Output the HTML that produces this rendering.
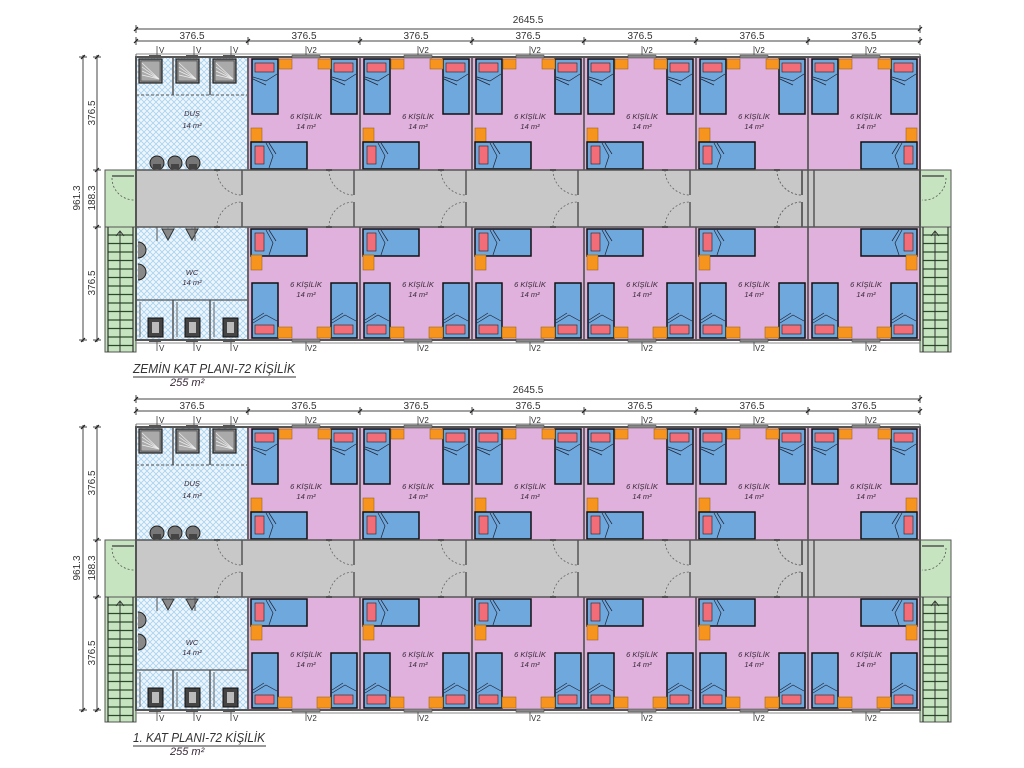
<!DOCTYPE html>
<html><head><meta charset="utf-8">
<style>
html,body{margin:0;padding:0;background:#fff;}
svg{display:block;}
text{font-family:"Liberation Sans",sans-serif;fill:#333;}
.d{font-size:10px;text-anchor:middle;}
.r{font-size:7.5px;font-style:italic;text-anchor:middle;fill:#3a2a3a;}
.v{font-size:8px;}
.t{font-size:13px;font-style:italic;}
</style></head><body>
<svg id="s" width="1024" height="768" viewBox="0 0 1024 768" xmlns="http://www.w3.org/2000/svg">
<defs>
<pattern id="h" width="6" height="6" patternUnits="userSpaceOnUse">
<rect width="6" height="6" fill="#eef6fc"/>
<path d="M0 0L6 6M6 0L0 6" stroke="#a9d2ef" stroke-width="0.8"/>
</pattern>
</defs>
<g id="shapes"></g>
<g>
<text class="d" x="528" y="23">2645.5</text>
<text class="d" x="192" y="39">376.5</text><text class="d" x="304" y="39">376.5</text><text class="d" x="416" y="39">376.5</text><text class="d" x="528" y="39">376.5</text><text class="d" x="640" y="39">376.5</text><text class="d" x="752" y="39">376.5</text><text class="d" x="864" y="39">376.5</text>
<text class="d" transform="translate(95,113) rotate(-90)">376.5</text>
<text class="d" transform="translate(95,198) rotate(-90)">188.3</text>
<text class="d" transform="translate(95,283) rotate(-90)">376.5</text>
<text class="d" transform="translate(80,198) rotate(-90)">961.3</text>
<text class="v" x="159" y="53">V</text><text class="v" x="196" y="53">V</text><text class="v" x="233" y="53">V</text>
<text class="v" x="307" y="53">V2</text><text class="v" x="419" y="53">V2</text><text class="v" x="531" y="53">V2</text><text class="v" x="643" y="53">V2</text><text class="v" x="755" y="53">V2</text><text class="v" x="867" y="53">V2</text>
<text class="v" x="159" y="351">V</text><text class="v" x="196" y="351">V</text><text class="v" x="233" y="351">V</text>
<text class="v" x="307" y="351">V2</text><text class="v" x="419" y="351">V2</text><text class="v" x="531" y="351">V2</text><text class="v" x="643" y="351">V2</text><text class="v" x="755" y="351">V2</text><text class="v" x="867" y="351">V2</text>
<text class="r" x="192" y="116">DUŞ</text><text class="r" x="192" y="128">14 m²</text>
<text class="r" x="192" y="275">WC</text><text class="r" x="192" y="285">14 m²</text>
<text class="r" x="306" y="119">6 KİŞİLİK</text><text class="r" x="306" y="129">14 m²</text>
<text class="r" x="418" y="119">6 KİŞİLİK</text><text class="r" x="418" y="129">14 m²</text>
<text class="r" x="530" y="119">6 KİŞİLİK</text><text class="r" x="530" y="129">14 m²</text>
<text class="r" x="642" y="119">6 KİŞİLİK</text><text class="r" x="642" y="129">14 m²</text>
<text class="r" x="754" y="119">6 KİŞİLİK</text><text class="r" x="754" y="129">14 m²</text>
<text class="r" x="866" y="119">6 KİŞİLİK</text><text class="r" x="866" y="129">14 m²</text>
<text class="r" x="306" y="287">6 KİŞİLİK</text><text class="r" x="306" y="297">14 m²</text>
<text class="r" x="418" y="287">6 KİŞİLİK</text><text class="r" x="418" y="297">14 m²</text>
<text class="r" x="530" y="287">6 KİŞİLİK</text><text class="r" x="530" y="297">14 m²</text>
<text class="r" x="642" y="287">6 KİŞİLİK</text><text class="r" x="642" y="297">14 m²</text>
<text class="r" x="754" y="287">6 KİŞİLİK</text><text class="r" x="754" y="297">14 m²</text>
<text class="r" x="866" y="287">6 KİŞİLİK</text><text class="r" x="866" y="297">14 m²</text>
<text class="t" x="133" y="373" textLength="162" lengthAdjust="spacingAndGlyphs">ZEMİN KAT PLANI-72 KİŞİLİK</text>
<text class="r" x="170" y="386" style="font-size:11px;text-anchor:start">255 m²</text>
</g>
<g>
<text class="d" x="528" y="393">2645.5</text>
<text class="d" x="192" y="409">376.5</text><text class="d" x="304" y="409">376.5</text><text class="d" x="416" y="409">376.5</text><text class="d" x="528" y="409">376.5</text><text class="d" x="640" y="409">376.5</text><text class="d" x="752" y="409">376.5</text><text class="d" x="864" y="409">376.5</text>
<text class="d" transform="translate(95,483) rotate(-90)">376.5</text>
<text class="d" transform="translate(95,568) rotate(-90)">188.3</text>
<text class="d" transform="translate(95,653) rotate(-90)">376.5</text>
<text class="d" transform="translate(80,568) rotate(-90)">961.3</text>
<text class="v" x="159" y="423">V</text><text class="v" x="196" y="423">V</text><text class="v" x="233" y="423">V</text>
<text class="v" x="307" y="423">V2</text><text class="v" x="419" y="423">V2</text><text class="v" x="531" y="423">V2</text><text class="v" x="643" y="423">V2</text><text class="v" x="755" y="423">V2</text><text class="v" x="867" y="423">V2</text>
<text class="v" x="159" y="721">V</text><text class="v" x="196" y="721">V</text><text class="v" x="233" y="721">V</text>
<text class="v" x="307" y="721">V2</text><text class="v" x="419" y="721">V2</text><text class="v" x="531" y="721">V2</text><text class="v" x="643" y="721">V2</text><text class="v" x="755" y="721">V2</text><text class="v" x="867" y="721">V2</text>
<text class="r" x="192" y="486">DUŞ</text><text class="r" x="192" y="498">14 m²</text>
<text class="r" x="192" y="645">WC</text><text class="r" x="192" y="655">14 m²</text>
<text class="r" x="306" y="489">6 KİŞİLİK</text><text class="r" x="306" y="499">14 m²</text>
<text class="r" x="418" y="489">6 KİŞİLİK</text><text class="r" x="418" y="499">14 m²</text>
<text class="r" x="530" y="489">6 KİŞİLİK</text><text class="r" x="530" y="499">14 m²</text>
<text class="r" x="642" y="489">6 KİŞİLİK</text><text class="r" x="642" y="499">14 m²</text>
<text class="r" x="754" y="489">6 KİŞİLİK</text><text class="r" x="754" y="499">14 m²</text>
<text class="r" x="866" y="489">6 KİŞİLİK</text><text class="r" x="866" y="499">14 m²</text>
<text class="r" x="306" y="657">6 KİŞİLİK</text><text class="r" x="306" y="667">14 m²</text>
<text class="r" x="418" y="657">6 KİŞİLİK</text><text class="r" x="418" y="667">14 m²</text>
<text class="r" x="530" y="657">6 KİŞİLİK</text><text class="r" x="530" y="667">14 m²</text>
<text class="r" x="642" y="657">6 KİŞİLİK</text><text class="r" x="642" y="667">14 m²</text>
<text class="r" x="754" y="657">6 KİŞİLİK</text><text class="r" x="754" y="667">14 m²</text>
<text class="r" x="866" y="657">6 KİŞİLİK</text><text class="r" x="866" y="667">14 m²</text>
<text class="t" x="133" y="742" textLength="132" lengthAdjust="spacingAndGlyphs">1. KAT PLANI-72 KİŞİLİK</text>
<text class="r" x="170" y="755" style="font-size:11px;text-anchor:start">255 m²</text>
</g>
</svg>
<script>
(function(){
var s='';
function R(x,y,w,h,f,st,sw){s+='<rect x="'+x+'" y="'+y+'" width="'+w+'" height="'+h+'" fill="'+f+'" stroke="'+(st||'none')+'" stroke-width="'+(sw||1)+'"/>';}
function L(x1,y1,x2,y2,st,sw,da){s+='<line x1="'+x1+'" y1="'+y1+'" x2="'+x2+'" y2="'+y2+'" stroke="'+(st||'#555')+'" stroke-width="'+(sw||1)+'"'+(da?' stroke-dasharray="'+da+'"':'')+'/>';}
function P(d,st,sw,da,f){s+='<path d="'+d+'" fill="'+(f||'none')+'" stroke="'+(st||'#555')+'" stroke-width="'+(sw||1)+'"'+(da?' stroke-dasharray="'+da+'"':'')+'/>';}
var BL='#6fa8dc',PK='#f26d78',OR='#f7941d',RM='#e0b1dc';
function vbed(x,y,top){R(x,y,26,55,BL,'#111',1.5);
 if(top){R(x+3,y+4,19,9,PK,'#222',0.6);P('M'+(x+1)+' '+(y+18)+'L'+(x+14)+' '+(y+22)+'L'+(x+25)+' '+(y+15)+'M'+(x+1)+' '+(y+20)+'L'+(x+14)+' '+(y+26),'#223',0.7);}
 else{R(x+3,y+42,19,9,PK,'#222',0.6);P('M'+(x+1)+' '+(y+40)+'L'+(x+14)+' '+(y+32)+'L'+(x+25)+' '+(y+38)+'M'+(x+1)+' '+(y+37)+'L'+(x+12)+' '+(y+30),'#223',0.7);}}
function hbed(x,y,left){R(x,y,56,27,BL,'#111',1.5);
 if(left){R(x+4,y+4,9,18,PK,'#222',0.6);P('M'+(x+15)+' '+(y+1)+'L'+(x+22)+' '+(y+14)+'L'+(x+18)+' '+(y+26)+'M'+(x+18)+' '+(y+1)+'L'+(x+25)+' '+(y+12),'#223',0.7);}
 else{R(x+43,y+4,9,18,PK,'#222',0.6);P('M'+(x+41)+' '+(y+1)+'L'+(x+34)+' '+(y+14)+'L'+(x+38)+' '+(y+26)+'M'+(x+38)+' '+(y+1)+'L'+(x+31)+' '+(y+12),'#223',0.7);}}
function dims(dy){
 L(136,29+dy,920,29+dy,'#444',1);L(136,41+dy,920,41+dy,'#444',1);
 for(var i=0;i<=7;i++){var x=i==0?136:248+112*(i-1);L(x,37+dy,x,45+dy,'#444',1);L(x-2,43+dy,x+2,39+dy,'#222',1.2);}
 L(136,25+dy,136,33+dy,'#444',1);L(920,25+dy,920,33+dy,'#444',1);L(134,31+dy,138,27+dy,'#222',1.2);L(918,31+dy,922,27+dy,'#222',1.2);
 L(83,55+dy,83,342+dy,'#444',1);L(97,55+dy,97,342+dy,'#444',1);
 [57,170,227,340].forEach(function(y){L(93,y+dy,101,y+dy,'#444',1);L(95,y+dy+2,99,y+dy-2,'#222',1.2);});
 [57,340].forEach(function(y){L(79,y+dy,87,y+dy,'#444',1);L(81,y+dy+2,85,y+dy-2,'#222',1.2);});
}
function stairs(x,dy,right){
 var C1=170+dy,C2=227+dy;
 R(x,C1,31,182,'#c6e4bf','#555',1);
 L(x,C2,x+31,C2,'#555',1);
 for(var y=C2+8;y<352+dy;y+=8.5)L(x+3,y,x+28,y,'#2a4a2a',1.2);
 L(x+3,C2,x+3,352+dy,'#333',1.2);L(x+28,C2,x+28,352+dy,'#333',1.2);L(x+15,C2+4,x+15,352+dy,'#333',1);
 P('M'+(x+11)+' '+(C2+9)+'L'+(x+15)+' '+(C2+4)+'L'+(x+19)+' '+(C2+9),'#333',1);
 if(!right){L(x+7,C1+6,x+29,C1+6,'#555',1.5);P('M'+(x+7)+' '+(C1+8)+'A22 22 0 0 0 '+(x+29)+' '+(C1+30),'#555',0.8,'2,2');}
 else{L(x+2,C1+6,x+24,C1+6,'#555',1.5);P('M'+(x+26)+' '+(C1+8)+'A22 22 0 0 1 '+(x+2)+' '+(C1+30),'#555',0.8,'2,2');}
}
function floor(dy){
 var T=57+dy,C1=170+dy,C2=227+dy,B=340+dy;
 dims(dy);
 stairs(105,dy,false);stairs(920,dy,true);
 R(136,T,112,113,'url(#h)');R(136,C2,112,113,'url(#h)');
 [139,176,213].forEach(function(x){R(x,T+2,23,24,'#888','#222',1.2);R(x+2,T+4,19,20,'#aaa','#333',0.5);
  for(var k=0;k<4;k++)L(x+3,T+6+k*4,x+20,T+22,'#eee',0.7);});
 L(136,T+38,248,T+38,'#555',1,'3,2');L(173,T,173,T+38,'#555',1.5);L(210,T,210,T+38,'#555',1.5);
 [157,175,193].forEach(function(x){s+='<circle cx="'+x+'" cy="'+(C1-7)+'" r="7" fill="#777" stroke="#222" stroke-width="1"/>';R(x-4,C1-6,8,5,'#444');});
 [168,192].forEach(function(x){P('M'+(x-6)+' '+(C2+2)+'L'+(x+6)+' '+(C2+2)+'L'+x+' '+(C2+13)+'Z','#333',1,null,'#888');});
 [157,195].forEach(function(x){L(x,C2,x,C2+14,'#555',1);});
 [250,272].forEach(function(y){P('M138 '+(y-8+dy)+'A8 8 0 0 1 138 '+(y+8+dy),'#222',1,null,'#888');});
 L(136,C2+73,248,C2+73,'#555',1.2);L(173,C2+73,173,B,'#555',1.5);L(210,C2+73,210,B,'#555',1.5);
 [148,185,223].forEach(function(x){R(x,C2+91,15,19,'#444','#111',1);R(x+4,C2+95,7,11,'#bbb');});
 [140,177,214].forEach(function(x){L(x,C2+75,x,C2+110,'#666',1);});
 R(136,C1,784,57,'#c8c8c8');
 for(var i=0;i<6;i++){
  var x0=248+112*i,last=(i==5);
  R(x0,T,112,113,RM);
  vbed(x0+4,T+2,true);vbed(x0+83,T+2,true);
  R(x0+31,T+2,13,10,OR,'#8a5a10',0.5);R(x0+70,T+2,13,10,OR,'#8a5a10',0.5);
  if(!last){R(x0+3,T+71,11,14,OR,'#8a5a10',0.5);hbed(x0+3,T+85,true);}
  else{R(x0+98,T+71,11,14,OR,'#8a5a10',0.5);hbed(x0+53,T+85,false);}
  R(x0,C2,112,113,RM);
  if(!last){hbed(x0+3,C2+2,true);R(x0+3,C2+28,11,15,OR,'#8a5a10',0.5);}
  else{hbed(x0+53,C2+2,false);R(x0+98,C2+28,11,15,OR,'#8a5a10',0.5);}
  vbed(x0+4,C2+56,false);vbed(x0+83,C2+56,false);
  R(x0+30,C2+100,14,11,OR,'#8a5a10',0.5);R(x0+69,C2+100,14,11,OR,'#8a5a10',0.5);
  L(x0,T,x0,C1,'#666',2);L(x0,C2,x0,B,'#666',2);
 }
 for(var j=0;j<7;j++){
  var b=248+112*j;if(j==6)b=808;
  var w=b-6;
  L(w,C1,w,C1+25,'#555',1.5);L(w,C1+32,w,C2,'#555',1.5);
  P('M'+(w-25)+' '+C1+'A25 25 0 0 0 '+w+' '+(C1+25),'#666',0.8,'2,2');
  P('M'+(w-25)+' '+C2+'A25 25 0 0 1 '+w+' '+(C2-25),'#666',0.8,'2,2');
  R(w-28,C1-1,6,2,'#444');R(w-28,C2-1,6,2,'#444');
 }
 L(808,C1,808,C2,'#555',1.5);L(814,C1,814,C2,'#555',1.5);
 L(136,C1,920,C1,'#555',1.5);L(136,C2,920,C2,'#555',1.5);
 L(248,T,248,C1,'#666',2);L(248,C2,248,B,'#666',2);
 R(136,T,784,283,'none','#555',2);
 L(136,T-3,920,T-3,'#888',1);L(136,B+3,920,B+3,'#888',1);
 L(136,T-3,136,T,'#666',1);L(920,T-3,920,T,'#666',1);
 [157,194,231].forEach(function(x){R(x-8,T-2,12,3,'#555');L(x,T-2,x,T-11,'#444',0.8);L(x,B+2,x,B+11,'#444',0.8);R(x-8,B-1,12,3,'#555');});
 for(var i=0;i<6;i++){var x=248+112*i+58;R(x-14,T-2,28,3,'#888','#444',0.5);L(x,T-2,x,T-11,'#444',0.8);R(x-14,B-1,28,3,'#888','#444',0.5);L(x,B+2,x,B+11,'#444',0.8);}
}
floor(0);floor(370);
s+='<line x1="133" y1="377" x2="296" y2="377" stroke="#333" stroke-width="1"/>';
s+='<line x1="133" y1="746" x2="266" y2="746" stroke="#333" stroke-width="1"/>';
document.getElementById('shapes').innerHTML=s;
})();
</script>
</body></html>
